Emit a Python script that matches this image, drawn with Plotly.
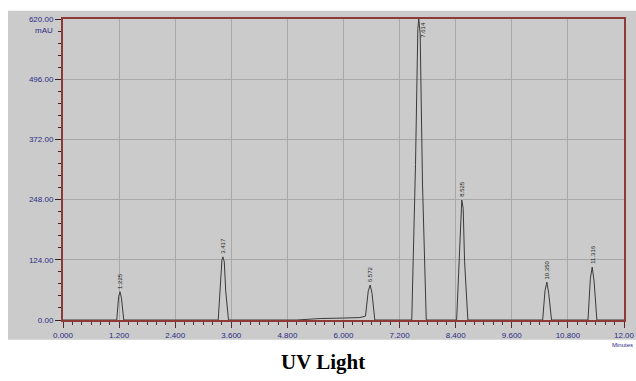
import plotly.graph_objects as go

# Chromatogram trace points (minutes, mAU)
time_min = [0.00, 1.00, 1.15, 1.19, 1.22, 1.25, 1.30, 3.32, 3.37, 3.40, 3.42, 3.45, 3.48, 3.54,
            5.00, 5.50, 6.00, 6.35, 6.47, 6.53, 6.57, 6.61, 6.67, 7.46, 7.54, 7.59, 7.61, 7.64,
            7.69, 7.77, 8.42, 8.48, 8.51, 8.53, 8.56, 8.59, 8.66, 10.26, 10.31, 10.35, 10.39, 10.45,
            11.23, 11.28, 11.32, 11.36, 11.42, 12.00]
signal_mau = [0, 0, 0, 48, 58, 45, 0, 0, 80, 124, 130, 120, 60, 0,
              0, 3, 4, 5, 8, 60, 72, 55, 0, 0, 320, 600, 620, 590,
              280, 0, 0, 140, 235, 247, 230, 120, 0, 0, 60, 78, 55, 0,
              0, 85, 109, 80, 0, 0]

peak_rt = [1.22, 3.42, 6.57, 7.61, 8.53, 10.35, 11.32]
peak_h = [58, 130, 72, 620, 247, 78, 109]
peak_labels = ["1.225", "3.417", "6.572", "7.614", "8.525", "10.350", "11.316"]

x_ticks = [0.0, 1.2, 2.4, 3.6, 4.8, 6.0, 7.2, 8.4, 9.6, 10.8, 12.0]
x_ticktext = ["0.000", "1.200", "2.400", "3.600", "4.800", "6.000", "7.200",
              "8.400", "9.600", "10.800", "12.00"]

BG = "#cbcbcb"
NAVY = "#2b2b85"
AXIS = "#8e3a36"

fig = go.Figure()
fig.add_trace(go.Scatter(x=time_min, y=signal_mau, mode="lines",
                         line=dict(color="#3a3a3a", width=1), hoverinfo="skip",
                         showlegend=False))

for rt, h, lab in zip(peak_rt, peak_h, peak_labels):
    top = h >= 600
    fig.add_annotation(x=rt, y=h, text=lab, textangle=-90, showarrow=False,
                       yanchor="top" if top else "bottom", xanchor="center",
                       xshift=4 if top else 0, yshift=-1 if top else 1,
                       font=dict(family="Liberation Sans", size=6, color="#1e1e1e"))

fig.add_shape(type="rect", xref="paper", yref="paper", x0=-0.098, x1=1.03,
              y0=-0.066, y1=1.027, fillcolor=BG, line=dict(width=0), layer="below")

fig.add_annotation(xref="paper", yref="paper", x=-0.014, y=0.985, text="mAU",
                   showarrow=False, xanchor="right", yanchor="top",
                   font=dict(family="Liberation Sans", size=8, color=NAVY))
fig.add_annotation(xref="paper", yref="paper", x=1.0196, y=-0.066, text="Minutes",
                   showarrow=False, xanchor="right", yanchor="top",
                   font=dict(family="Liberation Sans", size=6, color=NAVY))
fig.add_annotation(xref="paper", yref="paper", x=0.463, y=-0.092, text="<b>UV Light</b>",
                   showarrow=False, xanchor="center", yanchor="top",
                   font=dict(family="Liberation Serif", size=21, color="#000000"))

fig.update_xaxes(range=[0, 12], tickmode="array", tickvals=x_ticks, ticktext=x_ticktext,
                 showgrid=True, gridcolor="#a8a8a8", gridwidth=1, zeroline=False,
                 showline=True, linecolor=AXIS, linewidth=2, mirror=True,
                 ticks="outside", ticklen=6, tickcolor="#5a2a2a", tickwidth=1,
                 tickfont=dict(family="Liberation Sans", size=8, color=NAVY),
                 minor=dict(dtick=0.2, ticks="outside", ticklen=3, tickcolor="#5a2a2a", showgrid=False))
fig.update_yaxes(range=[0, 620], tickmode="linear", tick0=0, dtick=124, tickformat=".2f",
                 showgrid=True, gridcolor="#a8a8a8", gridwidth=1, zeroline=False,
                 showline=True, linecolor=AXIS, linewidth=2, mirror=True,
                 ticks="outside", ticklen=6, tickcolor="#3a2020", tickwidth=1,
                 tickfont=dict(family="Liberation Sans", size=8, color=NAVY),
                 minor=dict(dtick=24.8, ticks="outside", ticklen=3, tickcolor="#3a2020", showgrid=False))

fig.update_layout(width=636, height=381, margin=dict(l=63, r=12, t=19, b=61, autoexpand=False),
                  paper_bgcolor="white", plot_bgcolor=BG, showlegend=False)

fig.write_html("out.html", config={"displayModeBar": False},
               post_script="document.body.style.margin='0px';")
